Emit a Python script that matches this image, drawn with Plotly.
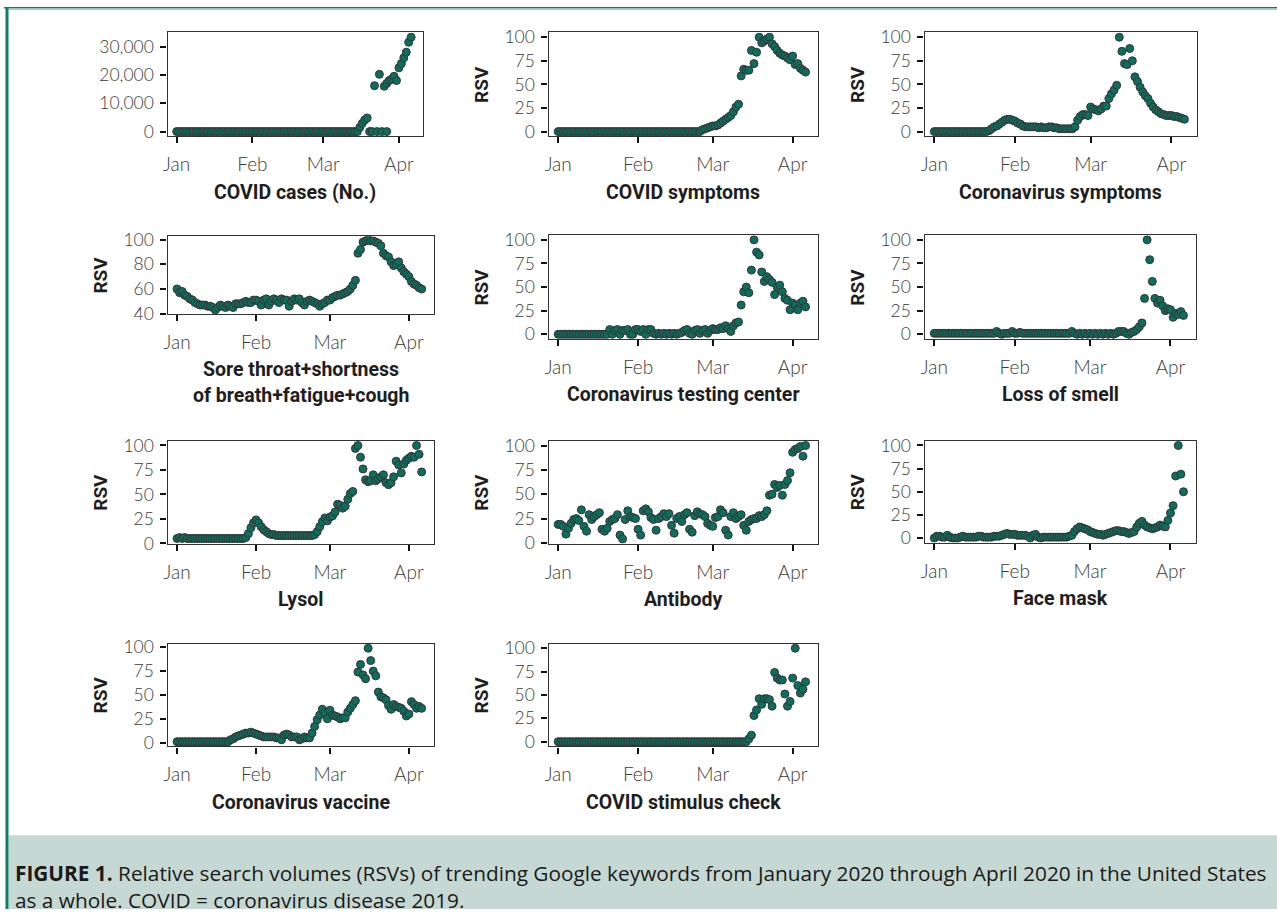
import plotly.graph_objects as go
import pandas as pd

# ---------------- data (daily values, 2020-01-01 .. 2020-04-06) ----------------
START = "2020-01-01"
MONTH_TICKS = ["2020-01-01", "2020-02-01", "2020-03-01", "2020-04-01"]
MONTH_LABELS = ["Jan", "Feb", "Mar", "Apr"]

covid_cases = [
    0, 0, 0, 0, 0, 0, 0, 0, 0, 0,
    0, 0, 0, 0, 0, 0, 0, 0, 0, 0,
    0, 0, 0, 0, 0, 0, 0, 0, 0, 0,
    0, 0, 0, 0, 0, 0, 0, 0, 0, 0,
    0, 0, 0, 0, 0, 0, 0, 0, 0, 0,
    0, 0, 0, 0, 0, 0, 0, 0, 0, 0,
    0, 0, 0, 0, 0, 0, 0, 0, 0, 0,
    0, 0, 0, 0, 0, 1500, 2900, 4100, 4800, 0,
    0, 16200, 0, 20200, 0, 16000, 17000, 18000, 18500, 19500,
    18000, 22500, 24000, 26000, 28000, 31500, 33300,
]
covid_cases_extra_dates = ["2020-03-27"]
covid_cases_extra_vals = [0]

covid_symptoms = [
    0, 0, 0, 0, 0, 0, 0, 0, 0, 0,
    0, 0, 0, 0, 0, 0, 0, 0, 0, 0,
    0, 0, 0, 0, 0, 0, 0, 0, 0, 0,
    0, 0, 0, 0, 0, 0, 0, 0, 0, 0,
    0, 0, 0, 0, 0, 0, 0, 0, 0, 0,
    0, 0, 0, 0, 0, 0, 2, 3, 4, 5,
    6, 6, 7, 9, 11, 13, 15, 17, 21, 26,
    29, 59, 66, 65, 65, 86, 72, 84, 100, 94,
    96, 98, 100, 93, 90, 86, 83, 81, 80, 78,
    76, 80, 71, 72, 67, 65, 63,
]

coronavirus_symptoms = [
    0, 0, 0, 0, 0, 0, 0, 0, 0, 0,
    0, 0, 0, 0, 0, 0, 0, 0, 0, 0,
    0, 1, 3, 5, 6, 8, 10, 12, 13, 13,
    12, 11, 9, 8, 6, 5, 5, 5, 5, 5,
    4, 5, 4, 4, 5, 5, 4, 4, 3, 3,
    3, 3, 3, 3, 5, 12, 16, 18, 18, 17,
    26, 24, 23, 22, 24, 27, 27, 35, 40, 44,
    49, 100, 85, 72, 71, 88, 75, 58, 53, 47,
    42, 38, 35, 30, 26, 23, 21, 19, 18, 17,
    17, 17, 16, 16, 15, 14, 13,
]

sore_throat_combo = [
    60, 57, 58, 55, 54, 52, 51, 49, 48, 47,
    47, 47, 46, 46, 45, 43, 45, 47, 46, 45,
    47, 46, 45, 48, 48, 48, 49, 50, 49, 49,
    51, 51, 50, 47, 51, 52, 47, 50, 52, 51,
    49, 52, 51, 51, 46, 50, 52, 51, 52, 49,
    47, 50, 51, 50, 49, 48, 46, 48, 49, 51,
    51, 53, 54, 55, 55, 56, 57, 58, 60, 63,
    67, 89, 92, 98, 99, 100, 99, 99, 98, 97,
    95, 89, 87, 86, 82, 79, 80, 82, 77, 74,
    72, 70, 66, 64, 63, 61, 60,
]

testing_center = [
    0, 0, 0, 0, 0, 0, 0, 0, 0, 0,
    0, 0, 0, 0, 0, 0, 0, 0, 0, 0,
    5, 0, 4, 5, 0, 4, 4, 5, 0, 0,
    5, 5, 3, 5, 0, 5, 5, 1, 0, 1,
    0, 1, 0, 1, 0, 1, 0, 1, 2, 4,
    5, 1, 0, 4, 5, 1, 4, 5, 1, 4,
    6, 5, 5, 7, 6, 9, 6, 3, 9, 12,
    13, 31, 45, 50, 44, 68, 100, 87, 84, 66,
    56, 61, 58, 55, 42, 50, 52, 45, 38, 36,
    26, 33, 31, 26, 33, 35, 29,
]

loss_of_smell = [
    1, 1, 1, 1, 1, 1, 1, 1, 1, 1,
    1, 1, 1, 1, 1, 1, 1, 1, 1, 1,
    1, 1, 1, 1, 3, 1, 0, 1, 1, 1,
    3, 1, 1, 2, 1, 1, 1, 1, 1, 1,
    1, 1, 1, 1, 1, 1, 1, 1, 1, 1,
    1, 1, 1, 3, 1, 0, 1, 0, 1, 0,
    1, 0, 1, 0, 1, 0, 1, 0, 1, 0,
    1, 3, 3, 3, 1, 0, 2, 3, 5, 8,
    12, 38, 100, 79, 56, 38, 33, 36, 30, 25,
    27, 26, 18, 22, 21, 24, 20,
]

lysol = [
    5, 6, 5, 6, 5, 5, 5, 5, 5, 5,
    5, 5, 5, 5, 5, 5, 5, 5, 5, 5,
    5, 5, 5, 5, 5, 5, 5, 6, 10, 16,
    21, 24, 21, 17, 14, 12, 10, 9, 9, 8,
    8, 8, 8, 8, 8, 8, 8, 8, 8, 8,
    8, 8, 8, 8, 9, 12, 17, 22, 26, 23,
    27, 28, 32, 40, 39, 36, 38, 45, 51, 53,
    97, 100, 88, 76, 65, 63, 64, 70, 64, 66,
    68, 70, 62, 60, 62, 68, 84, 80, 72, 81,
    85, 87, 89, 88, 100, 91, 73,
]

antibody = [
    19, 19, 17, 9, 15, 20, 24, 25, 23, 34,
    17, 12, 29, 24, 27, 29, 31, 14, 12, 15,
    22, 24, 25, 29, 8, 4, 24, 33, 27, 26,
    25, 14, 8, 33, 35, 32, 26, 24, 13, 25,
    27, 30, 27, 30, 18, 10, 25, 27, 22, 29,
    31, 14, 11, 28, 32, 30, 29, 27, 20, 18,
    17, 26, 27, 34, 31, 13, 8, 27, 31, 25,
    27, 29, 18, 13, 22, 24, 25, 25, 28, 27,
    29, 33, 49, 50, 60, 57, 59, 49, 60, 64,
    72, 93, 96, 97, 99, 89, 100,
]

face_mask = [
    0, 2, 2, 1, 1, 3, 1, 0, 0, 0,
    1, 2, 1, 1, 1, 1, 1, 2, 2, 1,
    1, 1, 1, 2, 2, 2, 3, 4, 5, 4,
    4, 4, 3, 3, 3, 3, 2, 0, 3, 4,
    1, 0, 1, 1, 1, 1, 1, 1, 1, 1,
    1, 1, 2, 3, 7, 10, 12, 11, 10, 9,
    7, 6, 5, 4, 4, 3, 4, 5, 6, 7,
    8, 8, 7, 7, 6, 5, 6, 7, 12, 16,
    18, 14, 12, 11, 10, 11, 12, 14, 13, 12,
    19, 27, 35, 67, 100, 69, 50,
]

coronavirus_vaccine = [
    1, 1, 1, 1, 1, 1, 1, 1, 1, 1,
    1, 1, 1, 1, 1, 1, 1, 1, 1, 1,
    1, 3, 4, 6, 7, 8, 9, 10, 10, 11,
    10, 9, 8, 7, 6, 6, 6, 6, 6, 5,
    5, 3, 8, 9, 8, 6, 6, 6, 3, 4,
    6, 5, 5, 10, 17, 24, 29, 35, 31, 25,
    34, 29, 28, 27, 25, 26, 26, 32, 36, 40,
    44, 74, 82, 71, 67, 99, 86, 75, 70, 53,
    48, 47, 45, 39, 35, 40, 38, 37, 36, 33,
    28, 30, 43, 40, 36, 38, 36,
]

stimulus_check = [
    0, 0, 0, 0, 0, 0, 0, 0, 0, 0,
    0, 0, 0, 0, 0, 0, 0, 0, 0, 0,
    0, 0, 0, 0, 0, 0, 0, 0, 0, 0,
    0, 0, 0, 0, 0, 0, 0, 0, 0, 0,
    0, 0, 0, 0, 0, 0, 0, 0, 0, 0,
    0, 0, 0, 0, 0, 0, 0, 0, 0, 0,
    0, 0, 0, 0, 0, 0, 0, 0, 0, 0,
    0, 0, 0, 0, 3, 7, 28, 34, 46, 40,
    46, 46, 45, 38, 74, 68, 66, 66, 51, 38,
    43, 68, 100, 60, 52, 56, 64,
]

titles = [
    ["COVID cases (No.)"], ["COVID symptoms"], ["Coronavirus symptoms"],
    ["Sore throat+shortness", "of breath+fatigue+cough"],
    ["Coronavirus testing center"], ["Loss of smell"],
    ["Lysol"], ["Antibody"], ["Face mask"],
    ["Coronavirus vaccine"], ["COVID stimulus check"],
]
series = [covid_cases, covid_symptoms, coronavirus_symptoms, sore_throat_combo,
          testing_center, loss_of_smell, lysol, antibody, face_mask,
          coronavirus_vaccine, stimulus_check]
rsv_ticks = [0, 25, 50, 75, 100]
ytick_sets = [[0, 10000, 20000, 30000], rsv_ticks, rsv_ticks, [40, 60, 80, 100],
              rsv_ticks, rsv_ticks, rsv_ticks, rsv_ticks, rsv_ticks, rsv_ticks, rsv_ticks]
ylabels = [None] + ["RSV"] * 10
# lowest tick that must stay inside the axis (for panels whose data start above it)
y_floor = [None, None, None, 40, None, None, 0, 0, None, None, None]

CAPTION = ("<b>FIGURE 1.</b> Relative search volumes (RSVs) of trending Google keywords "
           "from January 2020 through April 2020 in the United States<br>"
           "as a whole. COVID = coronavirus disease 2019.")

# ---------------- layout (target pixel boxes: left, right, top, bottom) ----------------
W, H = 1277, 919
boxes = [
    (167, 422, 32, 136), (548, 817, 32, 136), (924, 1196, 32, 136),
    (167, 433, 236, 314), (548, 817, 235, 339), (924, 1195, 235, 339),
    (167, 433, 441, 544), (548, 817, 441, 544), (924, 1195, 441, 543),
    (167, 433, 644, 747), (548, 817, 644, 747),
]
X_RANGE = ["2019-12-28 06:00", "2020-04-10 16:00"]

# empirical page-to-photo mapping (photo = offset + scale * page)
OX, SX = 3.5, 0.9968
OY, SY = 6.5, 0.983

TEAL = "#0c6e5d"
EDGE = "#353535"
XTICK_FONT = dict(family="Lato", size=19, color="#3a3a3a", weight=300)
YTICK_FONT = dict(family="Lato", size=17.5, color="#3a3a3a", weight=300)
TITLE_FONT = dict(family="Roboto", size=19.5, color="#1e1e1e", weight="bold")
YLAB_FONT = dict(family="Roboto", size=19, color="#1e1e1e", weight="bold")


def px_x(x):
    xd = (x - OX) / SX
    return min(max(xd / W, 0), 1)


def px_y(y):
    yd = (y - OY) / SY
    return min(max(1 - yd / H, 0), 1)


fig = go.Figure()
annotations = []
shapes = []

for i, (vals, box) in enumerate(zip(series, boxes)):
    n = i + 1
    xa = "x" if n == 1 else f"x{n}"
    ya = "y" if n == 1 else f"y{n}"
    dates = pd.date_range(START, periods=len(vals), freq="D")
    xs = list(dates)
    ys = list(vals)
    if i == 0:
        xs += list(pd.to_datetime(covid_cases_extra_dates))
        ys += covid_cases_extra_vals
    fig.add_trace(go.Scatter(
        x=xs, y=ys, mode="markers", xaxis=xa, yaxis=ya, showlegend=False,
        marker=dict(size=8, color=TEAL, line=dict(color=EDGE, width=1)),
        hoverinfo="skip",
    ))
    l, r, t, b = box
    lo, hi = min(ys), max(ys)
    pad = 0.05 * (hi - lo)
    y0 = lo - pad
    if y_floor[i] is not None:
        y0 = min(y0, y_floor[i] - 0.3)
    common = dict(showgrid=False, zeroline=False, showline=True, mirror=True,
                  linecolor="#333333", linewidth=1.3, ticks="outside", ticklen=6,
                  tickwidth=1.6, tickcolor="#111111")
    fig.layout[("xaxis" if n == 1 else f"xaxis{n}")] = dict(
        domain=[px_x(l), px_x(r)], anchor=ya, type="date", range=X_RANGE,
        tickvals=MONTH_TICKS, ticktext=MONTH_LABELS, ticklabelstandoff=5,
        tickfont=XTICK_FONT, **common)
    fig.layout[("yaxis" if n == 1 else f"yaxis{n}")] = dict(
        domain=[px_y(b), px_y(t)], anchor=xa, range=[y0, hi + pad],
        tickvals=ytick_sets[i], tickformat=",", ticklabelstandoff=3,
        tickfont=YTICK_FONT, **common)

    cx = (l + r) / 2
    base = b + 56
    for k, line in enumerate(titles[i]):
        annotations.append(dict(
            text=line, x=px_x(cx), y=px_y(base + k * 26), xref="paper", yref="paper",
            xanchor="center", yanchor="middle", showarrow=False, font=TITLE_FONT))
    if ylabels[i]:
        annotations.append(dict(
            text=ylabels[i], x=px_x(l - 67), y=px_y((t + b) / 2), xref="paper",
            yref="paper", xanchor="center", yanchor="middle", textangle=-90,
            showarrow=False, font=YLAB_FONT))

# frame and caption panel
FRAME = "#0f7c69"


def rect(x0, x1, y_top, y_bot, color, layer="above"):
    return dict(type="rect", xref="paper", yref="paper", x0=px_x(x0), x1=px_x(x1),
                y0=px_y(y_bot), y1=px_y(y_top), fillcolor=color, line_width=0, layer=layer)


shapes.append(rect(0, W + 10, 5, 8, FRAME))
shapes.append(rect(8, W + 10, 8, 9.5, "#9fd3c7"))
shapes.append(rect(5, 8, 5, H + 20, FRAME))
shapes.append(rect(8, W + 10, 836, H + 20, "#c6d8d3", layer="below"))

annotations.append(dict(
    text=CAPTION, x=px_x(13), y=px_y(887.5), xref="paper", yref="paper", xanchor="left",
    yanchor="middle", align="left", showarrow=False, borderpad=0,
    font=dict(family="Open Sans", size=20.8, color="#1a1a1a")))

fig.update_layout(
    width=W, height=H, margin=dict(l=0, r=0, t=0, b=0),
    paper_bgcolor="white", plot_bgcolor="white",
    annotations=annotations, shapes=shapes,
)

fig.write_html(
    "out.html",
    config={"displayModeBar": False},
    post_script="document.body.style.margin='0';document.body.style.padding='0';"
                "document.body.style.overflow='hidden';",
)
